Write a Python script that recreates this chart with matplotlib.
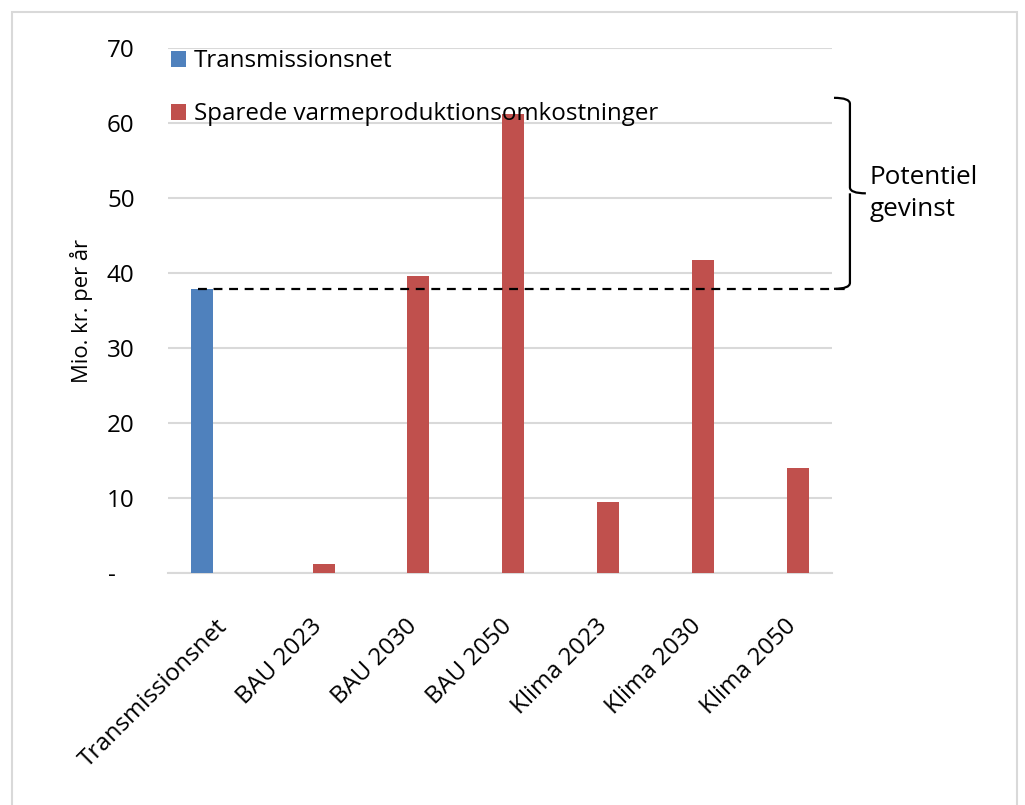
import matplotlib
matplotlib.use("Agg")
import matplotlib.pyplot as plt
import numpy as np
from matplotlib.path import Path
from matplotlib.patches import PathPatch, Rectangle
import matplotlib.transforms as mtransforms

categories = ["Transmissionsnet", "BAU 2023", "BAU 2030", "BAU 2050",
              "Klima 2023", "Klima 2030", "Klima 2050"]
series_names = ["Transmissionsnet", "Sparede varmeproduktionsomkostninger"]
transmission = [37.9, 0, 0, 0, 0, 0, 0]
savings = [0, 1.2, 39.6, 61.2, 9.5, 41.8, 14.0]
ytick_values = [0, 10, 20, 30, 40, 50, 60, 70]
ytick_labels = ["-   ", "10", "20", "30", "40", "50", "60", "70"]
ylabel = "Mio. kr. per år"
annotation = "Potentiel\ngevinst"

BLUE = "#4F81BD"
RED = "#C0504D"
GRID = "#D9D9D9"

plt.rcParams["font.family"] = ["Open Sans", "DejaVu Sans"]
FS = 17.4

W, H = 1025, 805
fig = plt.figure(figsize=(W / 100, H / 100), dpi=100)
left, right, bottom, top = 168, 832, 572.7, 48.4
ax = fig.add_axes([left / W, 1 - bottom / H, (right - left) / W, (bottom - top) / H])

# outer frame
fig.patches.append(Rectangle((12 / W, -0.01), (1017 - 12) / W, 1 - 12 / H + 0.01,
                             transform=fig.transFigure, fill=False,
                             edgecolor="#D9D9D9", linewidth=1.5))

x = np.arange(len(categories))
bw = 0.232
off = 0.14
ax.bar(x - off, transmission, bw, color=BLUE, label=series_names[0], zorder=3)
ax.bar(x + off, savings, bw, color=RED, label=series_names[1], zorder=3)

ax.set_xlim(-0.5, len(categories) - 0.5)
ax.set_ylim(0, 70)
ax.set_yticks(ytick_values)
ax.set_yticklabels(ytick_labels, fontsize=FS)
ax.tick_params(axis="y", length=0, pad=24)
ax.set_xticks(x)
ax.set_xticklabels(categories, fontsize=FS, rotation=45, ha="right",
                   va="top", rotation_mode="anchor")
ax.tick_params(axis="x", length=0, pad=30)
ax.grid(axis="y", color=GRID, linewidth=1.5, zorder=0)
for s in ["top", "right", "left"]:
    ax.spines[s].set_visible(False)
ax.spines["bottom"].set_color(GRID)
ax.spines["bottom"].set_linewidth(1.5)
ax.set_ylabel(ylabel, fontsize=15.8, labelpad=10)

leg = ax.legend(loc="upper left", bbox_to_anchor=(0.005, 0.998), frameon=False,
                fontsize=FS, handlelength=0.62, handleheight=0.62,
                handletextpad=0.3, labelspacing=1.2, borderpad=0,
                borderaxespad=0)

# dashed reference line at transmission level
trans_blend = mtransforms.blended_transform_factory(ax.transAxes, ax.transData)
ref = transmission[0]
ax.plot([0.045, 1.027], [ref, ref], transform=trans_blend, color="black",
        linestyle=(0, (4, 3)), linewidth=1.6, clip_on=False, zorder=4)

# curly brace
top_v = 63.4
mid_v = (top_v + ref) / 2
xv, xl, xt = 1.027, 1.003, 1.051
r = 0.8
verts = [(xl, top_v), (xv, top_v), (xv, top_v - r),
         (xv, mid_v + r), (xv, mid_v), (xt, mid_v),
         (xv, mid_v), (xv, mid_v - r),
         (xv, ref + r), (xv, ref), (xl, ref)]
codes = [Path.MOVETO, Path.CURVE3, Path.CURVE3,
         Path.LINETO, Path.CURVE3, Path.CURVE3,
         Path.MOVETO, Path.LINETO,
         Path.LINETO, Path.CURVE3, Path.CURVE3]
brace = PathPatch(Path(verts, codes), transform=trans_blend, fill=False,
                  edgecolor="black", linewidth=1.6, clip_on=False, zorder=5)
ax.add_patch(brace)
ax.text(1.057, mid_v, annotation, transform=trans_blend, fontsize=18.8,
        ha="left", va="center", linespacing=1.35)

fig.savefig("out.png", dpi=100, facecolor="white")
